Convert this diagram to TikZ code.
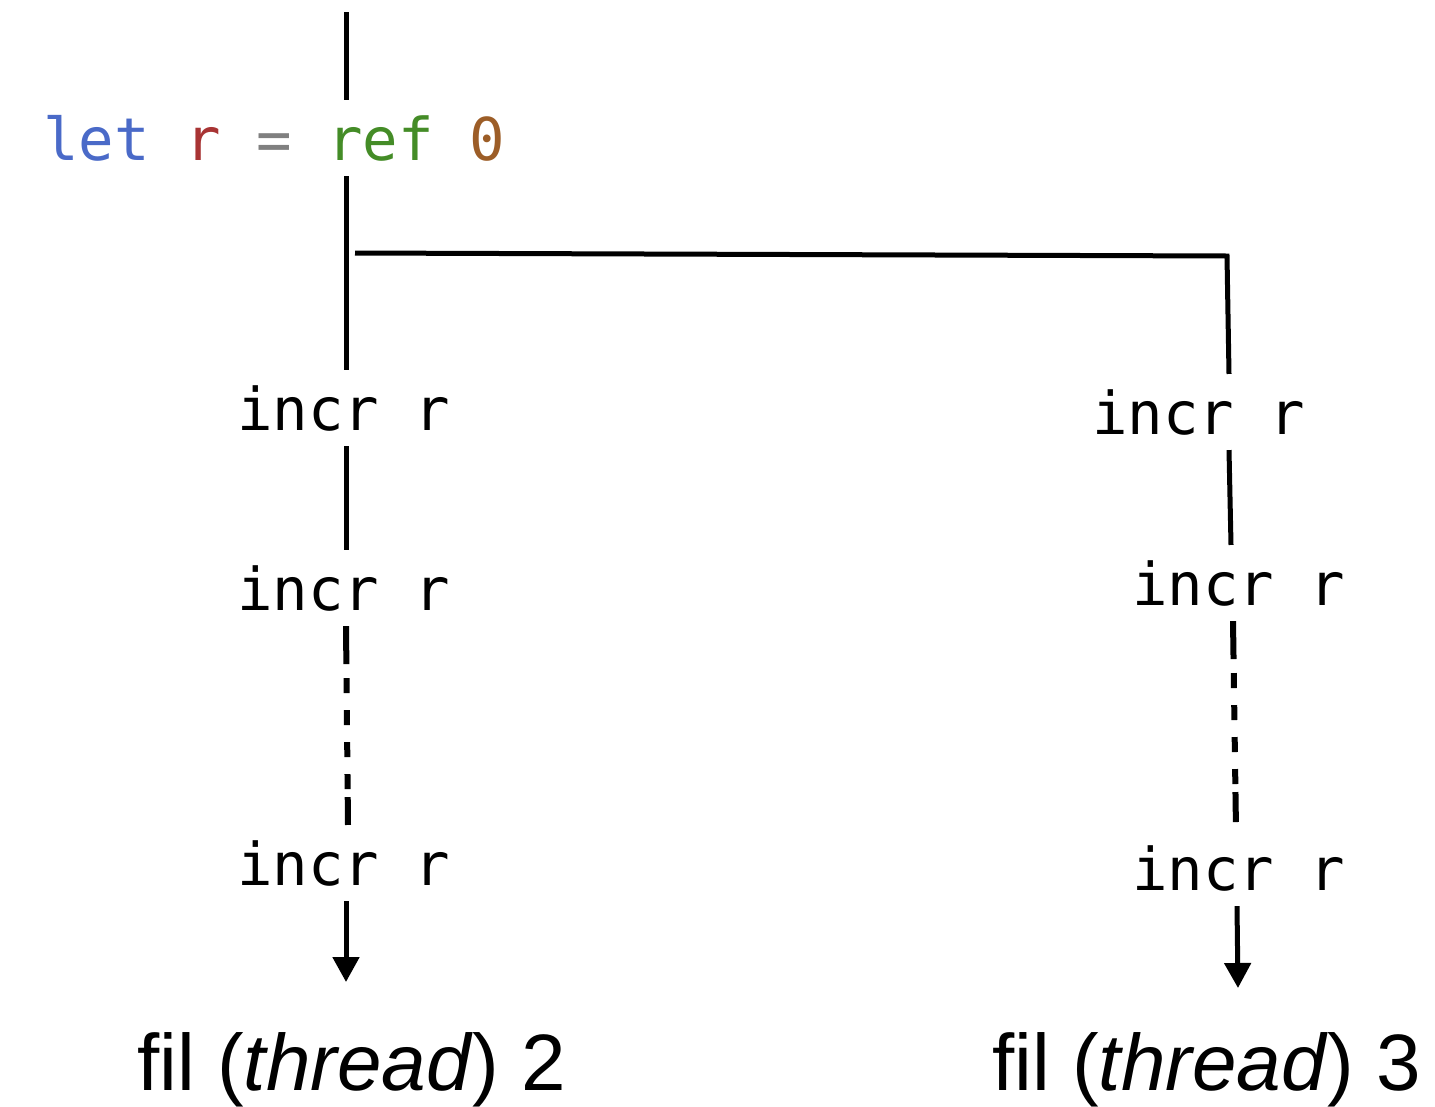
\documentclass[tikz,border=0pt]{standalone}
\usepackage{fontspec}
\setmainfont{Liberation Sans}
\newfontfamily\codefont{DejaVu Sans Mono}
\usetikzlibrary{arrows.meta}
\definecolor{kwblue}{HTML}{4A6AC8}
\definecolor{varred}{HTML}{A83434}
\definecolor{opgray}{HTML}{808080}
\definecolor{fngreen}{HTML}{448C27}
\definecolor{numbrown}{HTML}{9C5D27}
\begin{document}
\begin{tikzpicture}[x=1pt,y=-1pt,
  code/.style={font=\codefont\fontsize{59}{61}\selectfont, anchor=base west, inner xsep=0pt, inner ysep=15pt},
  caption/.style={font=\fontsize{80}{86}\selectfont, anchor=base west, inner sep=0pt},
  link/.style={draw, line width=5pt},
  dotted link/.style={draw, line width=6pt, dash pattern=on 38pt off 14pt on 15pt off 17pt on 15pt off 17pt on 15pt off 17pt on 15pt off 8pt on 30pt},
  arr/.style={draw, line width=5pt, -{Triangle[length=25pt,width=26pt]}}]
\useasboundingbox (0,0) rectangle (1435,1106);
% left column
\coordinate (top) at (346,12);
\node[code] (L) at (43,160) {\textcolor{kwblue}{let} \textcolor{varred}{r} \textcolor{opgray}{=} \textcolor{fngreen}{ref} \textcolor{numbrown}{0}};
\node[code] (A1) at (237,430) {incr r};
\node[code] (A2) at (237,610) {incr r};
\node[code] (A3) at (237,885) {incr r};
\coordinate (endA) at (346,982);
\node[caption] (F2) at (137,1090) {fil (\textit{thread}) 2};
\path[link] (top) -- (top |- L.north);
\path[link] (L.south -| top) -- (A1.north -| top);
\path[link] (A1.south -| top) -- (A2.north -| top);
\path[dotted link] (A2.south -| top) -- ([xshift=2pt]A3.north -| top);
\path[arr] (A3.south -| top) -- (endA);
% right column
\coordinate (fork) at (355,253);
\coordinate (corner) at (1227,256);
\node[code] (B1) at (1092,434) {incr r};
\node[code] (B2) at (1132,605) {incr r};
\node[code] (B3) at (1132,890) {incr r};
\coordinate (endB) at (1238,988);
\node[caption] (F3) at (992,1090) {fil (\textit{thread}) 3};
\path[link, line join=miter] (fork) -- (corner) -- ([xshift=2pt]B1.north -| corner);
\path[link] ([xshift=2pt]B1.south -| corner) -- ([xshift=4pt]B2.north -| corner);
\path[dotted link] ([xshift=6pt]B2.south -| corner) -- ([xshift=9pt]B3.north -| corner);
\path[arr] ([xshift=10pt]B3.south -| corner) -- (endB);
\end{tikzpicture}
\end{document}
